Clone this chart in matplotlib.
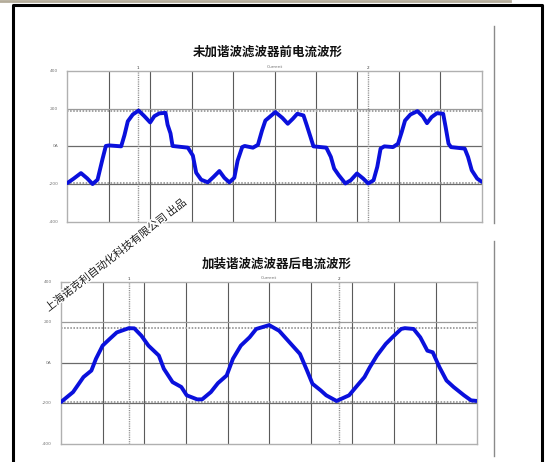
import matplotlib
matplotlib.use("Agg")
import matplotlib.pyplot as plt
import matplotlib.patheffects as pe

plt.rcParams['font.family'] = ['Noto Sans CJK SC', 'DejaVu Sans']

# ---------------- data ----------------
title_top = "未加谐波滤波器前电流波形"
title_bottom = "加装谐波滤波器后电流波形"
watermark = "上海诺克利自动化科技有限公司 出品"
channel_name = "Current"
ytick_values = [400, 200, 0, -200, -400]
ytick_labels = ["400", "200", "0A", "-200", "-400"]
n_div = 10

# before filter (x in grid divisions, y in A)
top_x = [0.00, 0.15, 0.33, 0.48, 0.61, 0.73, 0.85, 0.93, 1.01, 1.30, 1.38, 1.46, 1.58,
         1.72, 1.86, 2.00, 2.10, 2.22, 2.37, 2.42, 2.49, 2.54, 2.91, 3.03, 3.11, 3.23,
         3.39, 3.53, 3.67, 3.79, 3.91, 4.03, 4.11, 4.22, 4.28, 4.48, 4.60, 4.70, 4.78,
         5.02, 5.19, 5.32, 5.44, 5.55, 5.70, 5.78, 5.87, 5.94, 6.25, 6.36, 6.44, 6.55,
         6.71, 6.84, 6.99, 7.14, 7.26, 7.39, 7.48, 7.56, 7.65, 7.86, 7.98, 8.07, 8.15,
         8.28, 8.45, 8.58, 8.68, 8.79, 8.92, 9.07, 9.13, 9.20, 9.26, 9.59, 9.67, 9.76,
         9.89, 10.00]
top_y = [-195, -172, -142, -170, -200, -177, -67, 2, 5, 0, 60, 133, 169,
         190, 160, 127, 160, 175, 178, 115, 69, 2, -7, -49, -140, -177,
         -191, -162, -131, -167, -191, -167, -76, -4, 2, -7, 8, 85, 137,
         182, 151, 120, 146, 173, 164, 111, 49, 0, -7, -56, -118, -153,
         -197, -180, -144, -171, -197, -180, -109, -12, 0, -4, 14, 76, 137,
         169, 187, 159, 123, 155, 176, 173, 102, 14, -4, -12, -56, -127,
         -171, -188]

# after filter
bot_x = [0.00, 0.29, 0.54, 0.73, 0.84, 1.00, 1.17, 1.34, 1.63, 1.76, 1.93, 2.10,
         2.35, 2.47, 2.68, 2.89, 3.02, 3.27, 3.39, 3.60, 3.77, 3.98, 4.13, 4.32,
         4.53, 4.69, 5.00, 5.24, 5.49, 5.74, 5.91, 6.04, 6.24, 6.37, 6.62, 6.92,
         7.12, 7.29, 7.42, 7.59, 7.80, 7.96, 8.17, 8.26, 8.47, 8.63, 8.80, 8.93,
         9.09, 9.26, 9.43, 9.68, 9.85, 10.00]
bot_y = [-193, -144, -70, -38, 20, 85, 118, 150, 171, 170, 134, 85,
         36, -29, -95, -119, -160, -180, -180, -144, -100, -62, 20, 85,
         126, 167, 186, 158, 101, 44, -38, -103, -136, -160, -188, -160,
         -111, -70, -21, 36, 93, 126, 167, 171, 167, 126, 60, 52,
         -21, -87, -119, -160, -185, -188]

top_cursors = [1.71, 7.26]
bot_cursors = [1.64, 6.68]
top_levels = [186, -193]
bot_levels = [172, -194]

W, H = 548, 462
fig = plt.figure(figsize=(W / 100, H / 100), dpi=100)
fig.patch.set_facecolor("white")

# overlay for page decoration
ov = fig.add_axes([0, 0, 1, 1], zorder=0)
ov.set_xlim(0, W)
ov.set_ylim(H, 0)
ov.axis("off")
ov.plot([0, 510], [1.2, 1.2], color="#b4ac9a", lw=2)
ov.plot([13, 13, 541.5, 541.5], [470, 5, 5, 470], color="black", lw=2.2)
ov.plot([494, 494], [26, 223], color="#8a8a8a", lw=1)
ov.plot([494, 494], [241, 456], color="#8a8a8a", lw=1)


def px_rect(x0, y0, x1, y1):
    return [x0 / W, 1 - y1 / H, (x1 - x0) / W, (y1 - y0) / H]


def scope(rect, xs, ys, cursors, levels, title, title_y, title_x):
    ax = fig.add_axes(px_rect(*rect), zorder=1)
    ax.set_xlim(0, n_div)
    ax.set_ylim(-400, 400)
    ax.set_facecolor("white")
    for s in ax.spines.values():
        s.set_color("#b0b0b0")
        s.set_linewidth(1.0)
    ax.set_xticks([])
    ax.set_yticks([])
    for d in range(1, n_div):
        ax.axvline(d, color="#5a5a5a", lw=0.8, zorder=1)
    ax.axhline(200, color="#9a9a9a", lw=0.9, zorder=1)
    ax.axhline(0, color="#6a6a6a", lw=0.9, zorder=1)
    ax.axhline(-200, color="#6a6a6a", lw=0.9, zorder=1)
    for lv in levels:
        ax.axhline(lv, color="#a0a0a0", lw=1.4, ls=(0, (0.8, 0.8)), zorder=1)
    for i, c in enumerate(cursors):
        ax.axvline(c, color="#8a8a8a", lw=1.0, ls=(0, (0.8, 0.8)), zorder=1)
        ax.text(c, 405, str(i + 1), fontsize=3, ha="center", va="bottom",
                color="#333333", family="DejaVu Sans")
    for v, lab in zip(ytick_values, ytick_labels):
        ax.text(-0.22, v, lab, fontsize=3.2, ha="right", va="center",
                color="#777777", family="DejaVu Sans")
    ax.text(5, 410, channel_name, fontsize=3.2, ha="center", va="bottom",
            color="#777777", family="DejaVu Sans")
    ax.plot(xs, ys, color="#0a10dc", lw=2.8, solid_joinstyle="round",
            solid_capstyle="round", zorder=3)
    fig.text(title_x / W, 1 - title_y / H, title, fontsize=9, fontweight="bold",
             ha="center", va="center", color="#111111")
    return ax


scope((67.3, 71, 481.7, 221.7), top_x, top_y, top_cursors, top_levels,
      title_top, 52.5, 268)
scope((61, 281.7, 477.3, 444), bot_x, bot_y, bot_cursors, bot_levels,
      title_bottom, 264.5, 277)

# watermark
wm = fig.add_axes([0, 0, 1, 1], zorder=5)
wm.set_xlim(0, W)
wm.set_ylim(H, 0)
wm.axis("off")
wm.text(116, 255, watermark, fontsize=7.8, rotation=38, ha="center", va="center",
        color="#1a1a1a", rotation_mode="anchor", fontweight="medium",
        path_effects=[pe.withStroke(linewidth=2, foreground="white")])

fig.savefig("out.png", dpi=100)
